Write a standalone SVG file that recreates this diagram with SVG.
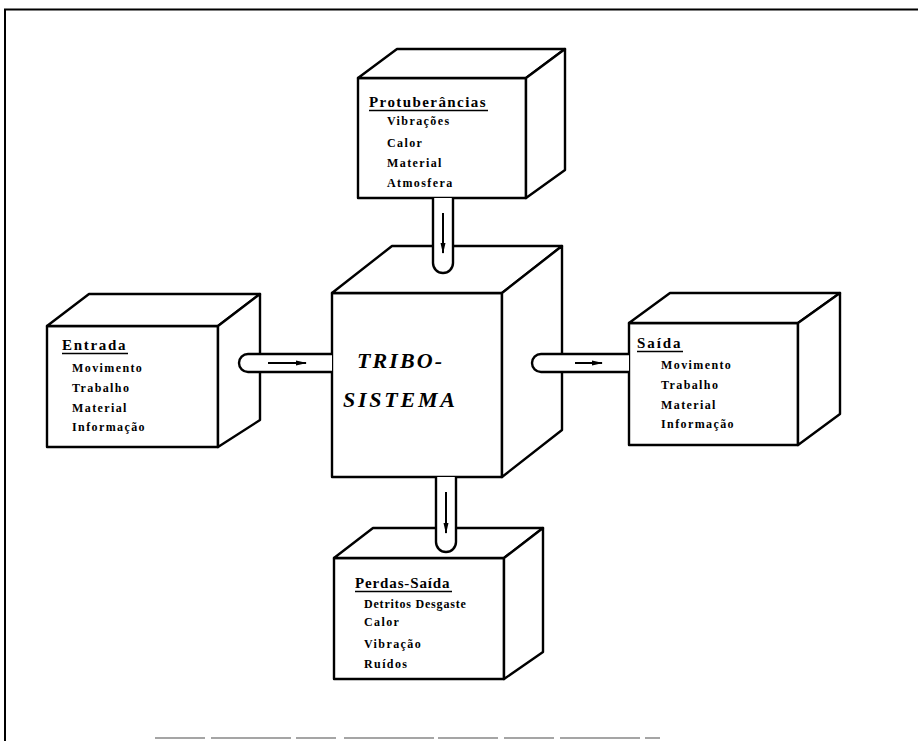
<svg xmlns="http://www.w3.org/2000/svg" width="918" height="741" viewBox="0 0 918 741">
<style>
.box{fill:#fff;stroke:#000;stroke-width:2.4;stroke-linejoin:round}
.pipe{fill:#fff;stroke:#000;stroke-width:2.4}
.arr{stroke:#000;stroke-width:2;fill:none}
.t{font-family:"Liberation Serif","Times New Roman",serif;font-weight:bold;fill:#000}
.title{font-size:15px;letter-spacing:1.5px}
.item{font-size:12px;letter-spacing:1.4px}
.big{font-size:22px;font-style:italic}
.ul{stroke:#000;stroke-width:1.5}
.frame{stroke:#000;stroke-width:2;fill:none}
</style>
<defs>
<marker id="ah" markerUnits="userSpaceOnUse" markerWidth="11" markerHeight="6" refX="10" refY="3" orient="auto">
<path d="M0,0.5 L11,3 L0,5.5 z" fill="#000"/>
</marker>
</defs>
<rect width="918" height="741" fill="#fff"/>
<g id="frame">
<path class="frame" d="M5,741 V9.5 H918"/>
<path d="M155,738 H660" stroke="#888" stroke-width="1.5" stroke-dasharray="50 6 80 5 40 8 90 4 60 6"/>
</g>
<g id="tribosistema">
<rect class="box" x="332" y="293" width="170" height="184"/>
<polygon class="box" points="332,293 392,246 562,246 502,293"/>
<polygon class="box" points="502,293 562,246 562,430 502,477"/>
<text class="t big" x="357" y="368" textLength="85" lengthAdjust="spacing">TRIBO-</text>
<text class="t big" x="343" y="407" textLength="112" lengthAdjust="spacing">SISTEMA</text>
</g>
<g id="protuberancias">
<rect class="box" x="358" y="78" width="168" height="120"/>
<polygon class="box" points="358,78 397,49 565,49 526,78"/>
<polygon class="box" points="526,78 565,49 565,170 526,198"/>
<text class="t title" x="369" y="107" textLength="118" lengthAdjust="spacing">Protuberâncias</text>
<line class="ul" x1="369" y1="110.5" x2="488" y2="110.5"/>
<text class="t item" x="387" y="125">Vibrações</text>
<text class="t item" x="387" y="147">Calor</text>
<text class="t item" x="387" y="167">Material</text>
<text class="t item" x="387" y="187">Atmosfera</text>
</g>
<g id="entrada">
<rect class="box" x="47" y="326" width="171" height="121"/>
<polygon class="box" points="47,326 89,294 260,294 218,326"/>
<polygon class="box" points="218,326 260,294 260,420 218,447"/>
<text class="t title" x="62" y="350" textLength="65" lengthAdjust="spacing">Entrada</text>
<line class="ul" x1="62" y1="353.5" x2="128" y2="353.5"/>
<text class="t item" x="72" y="372">Movimento</text>
<text class="t item" x="72" y="392">Trabalho</text>
<text class="t item" x="72" y="412">Material</text>
<text class="t item" x="72" y="431">Informação</text>
</g>
<g id="saida">
<rect class="box" x="629" y="323" width="169" height="122"/>
<polygon class="box" points="629,323 670,293 840,293 798,323"/>
<polygon class="box" points="798,323 840,293 840,414 798,445"/>
<text class="t title" x="637" y="348" textLength="45" lengthAdjust="spacing">Saída</text>
<line class="ul" x1="637" y1="351.5" x2="683" y2="351.5"/>
<text class="t item" x="661" y="369">Movimento</text>
<text class="t item" x="661" y="389">Trabalho</text>
<text class="t item" x="661" y="409">Material</text>
<text class="t item" x="661" y="428">Informação</text>
</g>
<g id="perdas-saida">
<rect class="box" x="334" y="558" width="170" height="121"/>
<polygon class="box" points="334,558 373,528 543,528 504,558"/>
<polygon class="box" points="504,558 543,528 543,652 504,679"/>
<text class="t title" x="355" y="588" textLength="96" lengthAdjust="spacing">Perdas-Saída</text>
<line class="ul" x1="355" y1="591.5" x2="452" y2="591.5"/>
<text class="t item" x="364" y="608" style="letter-spacing:0.8px">Detritos Desgaste</text>
<text class="t item" x="364" y="626">Calor</text>
<text class="t item" x="364" y="648">Vibração</text>
<text class="t item" x="364" y="668">Ruídos</text>
</g>
<g id="connectors">
<path class="pipe" d="M433,198 V263 A10,10 0 0 0 453,263 V198"/>
<line class="arr" x1="443" y1="213" x2="443" y2="253" marker-end="url(#ah)"/>
<path class="pipe" d="M436,477 V542 A10,10 0 0 0 456,542 V477"/>
<line class="arr" x1="446" y1="492" x2="446" y2="533" marker-end="url(#ah)"/>
<path class="pipe" d="M332,354 H248 A9,9 0 0 0 248,372 H332"/>
<line class="arr" x1="268" y1="363" x2="306" y2="363" marker-end="url(#ah)"/>
<path class="pipe" d="M629,354 H541 A9,9 0 0 0 541,372 H629"/>
<line class="arr" x1="575" y1="363" x2="602" y2="363" marker-end="url(#ah)"/>
</g>
</svg>
